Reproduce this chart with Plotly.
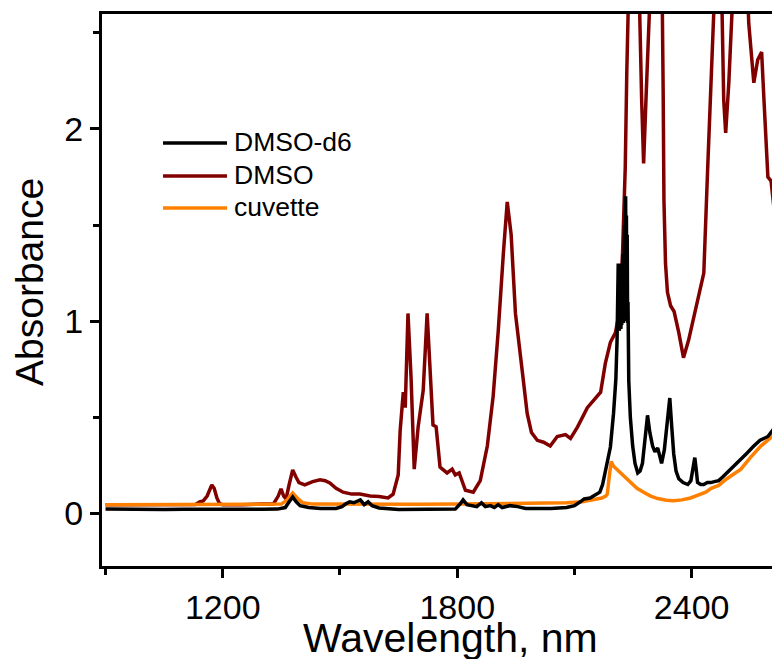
import plotly.graph_objects as go

# ---------------- data ----------------
dmso_d6_nm = [900, 950, 1000, 1050, 1100, 1150, 1200, 1250, 1300, 1340, 1360, 1370, 1379, 1388, 1398,
              1420, 1450, 1490, 1505, 1515, 1525, 1535, 1545, 1552, 1562, 1572, 1582, 1600, 1650, 1700,
              1750, 1795, 1808, 1815, 1825, 1840, 1850, 1862, 1872, 1885, 1895, 1905, 1915, 1935, 1955,
              1975, 2000, 2040, 2080, 2100, 2115, 2125, 2140, 2155, 2165, 2172, 2179, 2186, 2192, 2200,
              2206, 2209, 2211, 2212, 2213, 2214, 2215, 2216, 2217, 2218, 2219, 2220, 2221, 2222, 2223,
              2224, 2225, 2226, 2227, 2228, 2229, 2230, 2231, 2232, 2233, 2234, 2235, 2236, 2237,
              2239, 2243, 2249, 2255, 2262, 2268, 2274, 2280, 2287, 2293, 2300, 2306, 2313, 2318, 2323,
              2330, 2338, 2344, 2349, 2354, 2360, 2367, 2378, 2390, 2398, 2403, 2408, 2412, 2415, 2423,
              2431, 2440, 2449, 2458, 2469, 2480, 2495, 2508, 2525, 2540, 2559, 2575, 2595, 2610, 2623, 2635]
dmso_d6_abs = [0.022, 0.020, 0.022, 0.020, 0.021, 0.020, 0.022, 0.020, 0.021, 0.022, 0.030, 0.060, 0.085, 0.060, 0.040,
               0.030, 0.025, 0.025, 0.035, 0.050, 0.060, 0.055, 0.065, 0.070, 0.045, 0.060, 0.040, 0.028, 0.020, 0.020,
               0.020, 0.022, 0.050, 0.070, 0.045, 0.040, 0.035, 0.055, 0.035, 0.040, 0.030, 0.045, 0.030, 0.040, 0.035,
               0.025, 0.025, 0.025, 0.030, 0.040, 0.060, 0.075, 0.080, 0.095, 0.110, 0.150, 0.220, 0.290, 0.345, 0.520,
               0.700, 0.900, 1.100, 1.300, 1.000, 1.280, 0.950, 1.300, 0.970, 1.290, 0.960, 1.300, 0.980, 1.280, 1.000,
               1.350, 0.990, 1.400, 1.000, 1.500, 1.020, 1.600, 1.650, 1.050, 1.550, 1.000, 1.450, 0.990, 1.100,
               0.690, 0.500, 0.350, 0.260, 0.210, 0.220, 0.260, 0.380, 0.510, 0.420, 0.350, 0.320, 0.340, 0.300, 0.260,
               0.330, 0.500, 0.600, 0.450, 0.310, 0.220, 0.180, 0.160, 0.150, 0.170, 0.220, 0.290, 0.220, 0.160, 0.150,
               0.150, 0.160, 0.160, 0.165, 0.170, 0.190, 0.220, 0.240, 0.280, 0.310, 0.350, 0.380, 0.400, 0.440, 0.500, 0.550]

dmso_nm = [900, 1000, 1100, 1130, 1141, 1150, 1160, 1167, 1172, 1178, 1185, 1192, 1200, 1250, 1300, 1330,
           1342, 1349, 1356, 1362, 1370, 1379, 1387, 1395, 1410, 1430, 1449, 1462, 1474, 1490, 1508, 1530,
           1551, 1577, 1600, 1623, 1636, 1645, 1649, 1654, 1662, 1667, 1674, 1682, 1690, 1700, 1713, 1723,
           1731, 1738, 1746, 1756, 1774, 1787, 1795, 1805, 1821, 1841, 1859, 1877, 1892, 1905, 1918, 1928,
           1938, 1949, 1967, 1979, 1990, 2005, 2021, 2038, 2056, 2077, 2090, 2108, 2133, 2149, 2167, 2179,
           2192, 2205, 2215, 2223, 2230, 2234, 2238, 2245, 2255, 2262, 2267, 2272, 2277, 2283, 2290, 2295,
           2305, 2318, 2324, 2327, 2329, 2333, 2338, 2346, 2355, 2367, 2379, 2392, 2405, 2418, 2431, 2441,
           2449, 2456, 2466, 2476, 2482, 2487, 2495, 2503, 2510, 2525, 2540, 2546, 2551, 2559, 2569, 2579,
           2585, 2595, 2603, 2610, 2621, 2628, 2635]
dmso_abs = [0.045, 0.045, 0.045, 0.046, 0.060, 0.065, 0.090, 0.130, 0.148, 0.130, 0.080, 0.050, 0.045, 0.045, 0.046, 0.050,
            0.090, 0.127, 0.090, 0.075, 0.150, 0.226, 0.190, 0.160, 0.148, 0.165, 0.174, 0.170, 0.158, 0.130, 0.110, 0.100,
            0.100, 0.090, 0.088, 0.080, 0.100, 0.160, 0.200, 0.430, 0.630, 0.550, 1.040, 0.700, 0.230, 0.450, 0.640, 1.040,
            0.690, 0.460, 0.450, 0.240, 0.210, 0.230, 0.200, 0.210, 0.120, 0.110, 0.170, 0.350, 0.610, 0.950, 1.350, 1.620,
            1.450, 1.040, 0.730, 0.520, 0.420, 0.380, 0.370, 0.350, 0.400, 0.410, 0.390, 0.450, 0.550, 0.590, 0.630, 0.780,
            0.890, 0.940, 1.050, 1.350, 1.800, 2.300, 2.900, 3.300, 3.400, 3.000, 2.600, 2.150, 1.820, 2.150, 2.550, 2.850,
            3.300, 3.200, 2.800, 2.200, 1.630, 1.300, 1.150, 1.080, 1.050, 0.940, 0.810, 0.900, 1.020, 1.120, 1.250, 1.800,
            2.320, 2.800, 3.100, 2.800, 2.150, 1.980, 2.240, 2.600, 2.900, 3.200, 2.900, 2.550, 2.410, 2.240, 2.360, 2.400,
            2.150, 1.750, 1.730, 1.600, 1.440, 1.450, 1.550]

cuvette_nm = [900, 1000, 1100, 1200, 1300, 1350, 1365, 1379, 1390, 1405, 1430, 1500, 1600, 1700, 1800, 1900,
              2000, 2080, 2120, 2150, 2170, 2180, 2184, 2189, 2194, 2200, 2210, 2218, 2230, 2244, 2260, 2277,
              2295, 2313, 2335, 2354, 2375, 2397, 2415, 2436, 2450, 2469, 2490, 2510, 2526, 2550, 2577, 2600,
              2621, 2635]
cuvette_abs = [0.045, 0.045, 0.046, 0.046, 0.046, 0.048, 0.070, 0.106, 0.080, 0.055, 0.048, 0.047, 0.047, 0.047, 0.048, 0.050,
               0.050, 0.055, 0.060, 0.070, 0.080, 0.090, 0.100, 0.190, 0.270, 0.245, 0.225, 0.210, 0.185, 0.160, 0.130, 0.110,
               0.090, 0.077, 0.068, 0.065, 0.070, 0.080, 0.093, 0.110, 0.130, 0.145, 0.180, 0.210, 0.230, 0.290, 0.350, 0.390,
               0.430, 0.470]

x_tick_vals = [1200, 1800, 2400]
y_tick_vals = [0, 1, 2]
x_title = "Wavelength, nm"
y_title = "Absorbance"

series_names = ["DMSO-d6", "DMSO", "cuvette"]
series_colors = ["#000000", "#800000", "#FF8000"]

# ---------------- figure ----------------
font_family = "Liberation Sans, Arial, sans-serif"
fig = go.Figure()
# draw order: DMSO (bottom), cuvette, DMSO-d6 (top)
for nm, ab, idx in [(dmso_nm, dmso_abs, 1), (cuvette_nm, cuvette_abs, 2), (dmso_d6_nm, dmso_d6_abs, 0)]:
    fig.add_trace(go.Scatter(x=nm, y=ab, mode="lines", name=series_names[idx],
                             line=dict(color=series_colors[idx], width=3.5), showlegend=False))

# legend drawn as line samples + labels (paper coordinates)
legend_y = [0.7663, 0.7065, 0.6486]
shapes = []
annotations = []
for name, color, ly in zip(series_names, series_colors, legend_y):
    shapes.append(dict(type="line", xref="paper", yref="paper", x0=0.090, x1=0.1844, y0=ly, y1=ly,
                       line=dict(color=color, width=3.5)))
    annotations.append(dict(text=name, xref="paper", yref="paper", x=0.1917, y=ly, yshift=1,
                            xanchor="left", yanchor="middle", showarrow=False,
                            font=dict(size=26.5, family=font_family, color="black")))

annotations.append(dict(text=x_title, xref="paper", yref="paper", x=0.5147, y=0, yshift=-72,
                        xanchor="center", yanchor="middle", showarrow=False,
                        font=dict(size=41, family=font_family, color="black")))
annotations.append(dict(text=y_title, xref="paper", yref="paper", x=0, y=0.5145, xshift=-72,
                        xanchor="center", yanchor="middle", textangle=-90, showarrow=False,
                        font=dict(size=39, family=font_family, color="black")))

fig.update_layout(
    width=772, height=651,
    margin=dict(l=94, r=0, t=6, b=93, autoexpand=False),
    paper_bgcolor="white", plot_bgcolor="white",
    font=dict(family=font_family, color="black"),
    showlegend=False,
    shapes=shapes,
    annotations=annotations,
)
fig.update_xaxes(
    range=[891, 2626], showgrid=False, zeroline=False,
    showline=True, linecolor="black", linewidth=3, mirror=True,
    ticks="outside", ticklen=9, tickwidth=3, tickcolor="black",
    tickvals=x_tick_vals, ticktext=[str(v) for v in x_tick_vals],
    tickfont=dict(size=34, family=font_family, color="black"),
    minor=dict(dtick=300, tick0=900, ticks="outside", ticklen=6, tickwidth=3, tickcolor="black"),
)
fig.update_yaxes(
    range=[-0.274, 2.598], showgrid=False, zeroline=False,
    showline=True, linecolor="black", linewidth=3, mirror=False,
    ticks="outside", ticklen=9, tickwidth=3, tickcolor="black",
    tickvals=y_tick_vals, ticktext=[str(v) for v in y_tick_vals],
    tickfont=dict(size=34, family=font_family, color="black"),
    minor=dict(dtick=0.5, tick0=0, ticks="outside", ticklen=6, tickwidth=3, tickcolor="black"),
)

fig.write_html("out.html")
